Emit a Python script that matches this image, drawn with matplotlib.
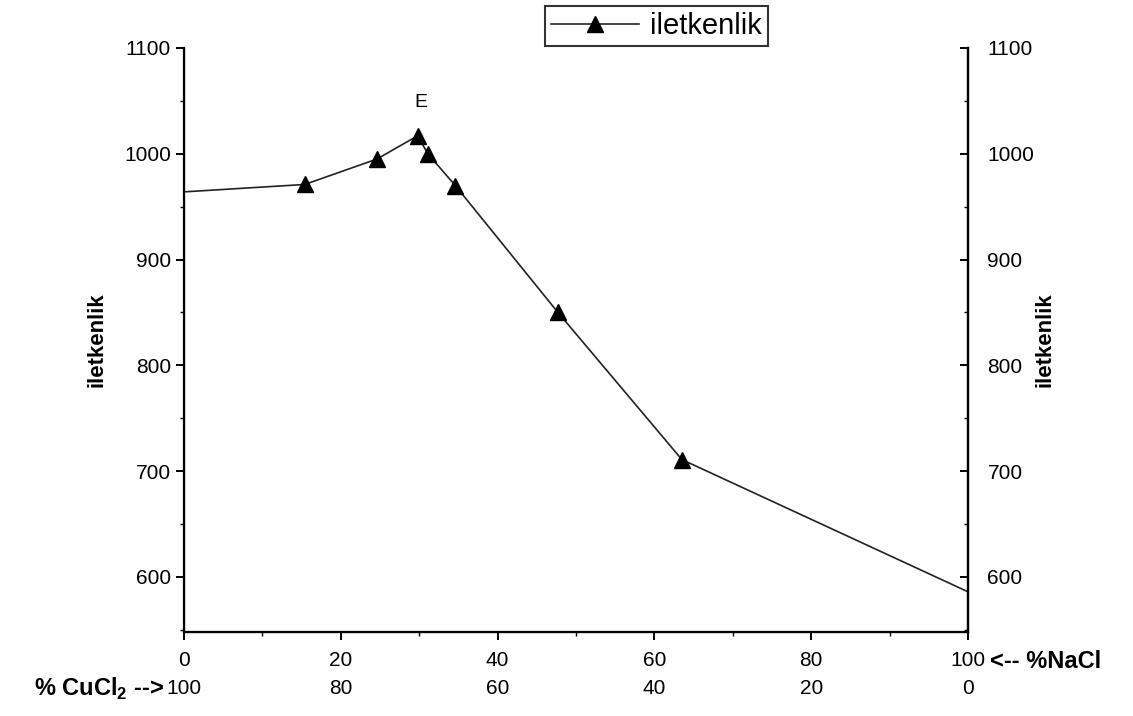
import matplotlib.pyplot as plt
from matplotlib.ticker import MultipleLocator

plt.rcParams['font.family'] = ['Liberation Sans', 'DejaVu Sans']

# iletkenlik data (% CuCl2 on x)
cucl2 = [0, 15.4, 24.6, 29.8, 31.1, 34.6, 47.7, 63.5, 100]
iletkenlik = [964, 971, 995, 1017, 1000, 970, 850, 711, 586]
xticks = [0, 20, 40, 60, 80, 100]
xtick_labels = [f"{v}\n{100 - v}" for v in xticks]
yticks = [600, 700, 800, 900, 1000, 1100]

fig = plt.figure(figsize=(11.33, 7.16), dpi=100)
ax = fig.add_axes([0.1624, 0.1173, 0.692, 0.8157])

ax.plot(cucl2, iletkenlik, color='#222222', lw=1.2, marker='^', ms=11,
        markevery=list(range(1, len(cucl2) - 1)), mfc='black', mec='black',
        label='iletkenlik')

ax.set_xlim(0, 100)
ax.set_ylim(548, 1100)
ax.spines['top'].set_visible(False)
for s in ['left', 'bottom', 'right']:
    ax.spines[s].set_linewidth(1.6)

ax.set_xticks(xticks)
ax.set_xticklabels(xtick_labels, fontsize=15, linespacing=1.55)
ax.xaxis.set_minor_locator(MultipleLocator(10))
ax.set_yticks(yticks)
ax.tick_params(axis='y', labelsize=15, length=6, width=1.4)
ax.tick_params(axis='x', length=6, width=1.4, pad=8)
ax.yaxis.set_minor_locator(MultipleLocator(50))
ax.tick_params(which='minor', length=3, width=1)
ax.set_ylabel('iletkenlik', fontsize=16, fontweight='bold', labelpad=12)

ax2 = ax.twinx()
ax2.set_ylim(548, 1100)
ax2.set_yticks(yticks)
ax2.yaxis.set_minor_locator(MultipleLocator(50))
ax2.tick_params(axis='y', direction='in', labelsize=15, length=6, width=1.4, pad=14)
ax2.tick_params(which='minor', direction='in', length=3, width=1)
ax2.spines['top'].set_visible(False)
ax2.spines['right'].set_linewidth(1.6)
ax2.set_ylabel('iletkenlik', fontsize=16, fontweight='bold', labelpad=0)

ax.text(30.2, 1040, 'E', fontsize=14, ha='center', va='bottom')

ax.text(-2.6, -0.098, '% CuCl$_\\mathregular{2}$ -->', transform=ax.get_xaxis_transform(),
        fontsize=17, fontweight='bold', ha='right', va='center')
ax.text(102.8, -0.050, '<-- %NaCl', transform=ax.get_xaxis_transform(),
        fontsize=17, fontweight='bold', ha='left', va='center')

leg = ax.legend(loc='upper center', bbox_to_anchor=(0.603, 1.097), fontsize=21,
                frameon=True, fancybox=False, edgecolor='black',
                handlelength=3.0, handletextpad=0.4, borderpad=0.2)
leg.get_frame().set_linewidth(1.5)

fig.savefig('out.png', dpi=100)
